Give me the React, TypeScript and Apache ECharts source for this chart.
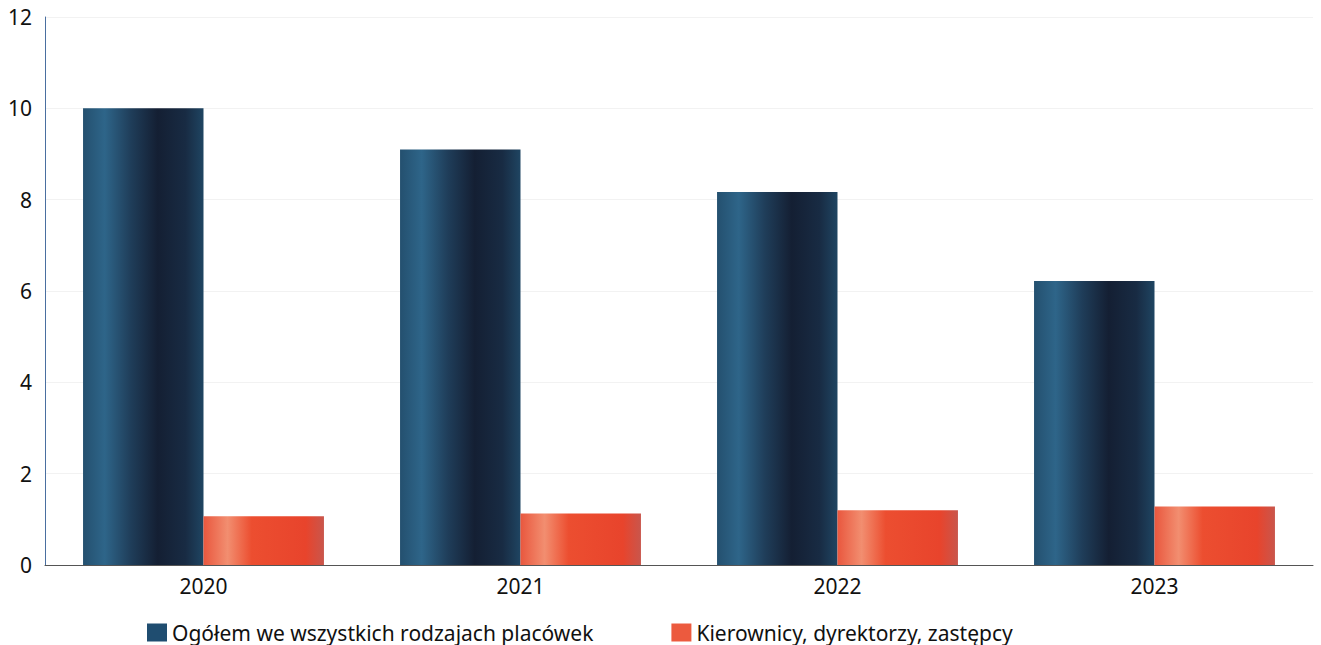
import React, { useEffect, useRef } from "react";
import * as echarts from "echarts";

const categories = ["2020", "2021", "2022", "2023"];
const seriesNames = ["Ogółem we wszystkich rodzajach placówek", "Kierownicy, dyrektorzy, zastępcy"];
const totalValues = [10.0, 9.1, 8.17, 6.22];
const managerValues = [1.07, 1.13, 1.2, 1.28];

export default function App() {
  const ref = useRef<HTMLDivElement>(null);
  useEffect(() => {
    if (!ref.current) return;
    const chart = echarts.init(ref.current, null, { renderer: "svg" });
    const blueGrad = new echarts.graphic.LinearGradient(0, 0, 1, 0, [
      { offset: 0, color: "#24506f" },
      { offset: 0.18, color: "#2e6589" },
      { offset: 0.4, color: "#1f3d59" },
      { offset: 0.62, color: "#141f33" },
      { offset: 0.85, color: "#182b43" },
      { offset: 1, color: "#1f4562" },
    ]);
    const redGrad = new echarts.graphic.LinearGradient(0, 0, 1, 0, [
      { offset: 0, color: "#e9573e" },
      { offset: 0.2, color: "#f28e70" },
      { offset: 0.4, color: "#ec4e30" },
      { offset: 0.85, color: "#e8442c" },
      { offset: 1, color: "#c9564c" },
    ]);
    chart.setOption({
      animation: false,
      backgroundColor: "#ffffff",
      textStyle: { fontFamily: "Noto Sans" },
      grid: { left: 45, right: 8, top: 17, bottom: 80, containLabel: false },
      legend: {
        top: 617,
        left: 142,
        itemWidth: 20,
        itemHeight: 18,
        itemGap: 78,
        icon: "rect",
        textStyle: { fontSize: 21, color: "#111", fontFamily: "Noto Sans" },
        data: [
          { name: seriesNames[0], itemStyle: { color: "#1f4d70" } },
          { name: seriesNames[1], itemStyle: { color: "#ec5a3e" } },
        ],
      },
      xAxis: {
        type: "category",
        data: categories,
        axisLine: { lineStyle: { color: "#555", width: 1 } },
        axisTick: { show: false },
        axisLabel: { fontSize: 21, color: "#111", margin: 10 },
      },
      yAxis: {
        type: "value",
        min: 0,
        max: 12,
        interval: 2,
        axisLine: { show: true, lineStyle: { color: "#4a6fa0", width: 1 } },
        axisTick: { show: false },
        axisLabel: { fontSize: 21, color: "#111", margin: 13 },
        splitLine: { lineStyle: { color: "#f2f2f2", width: 1 } },
      },
      series: [
        {
          name: seriesNames[0],
          type: "bar",
          data: totalValues,
          barGap: "0%",
          barCategoryGap: "24%",
          itemStyle: { color: blueGrad },
        },
        {
          name: seriesNames[1],
          type: "bar",
          data: managerValues,
          barGap: "0%",
          barCategoryGap: "24%",
          itemStyle: { color: redGrad },
        },
      ],
    });
    return () => chart.dispose();
  }, []);
  return (
    <div
      ref={ref}
      style={{ position: "absolute", left: 0, top: 0, width: 1321, height: 645, background: "#fff" }}
    />
  );
}
